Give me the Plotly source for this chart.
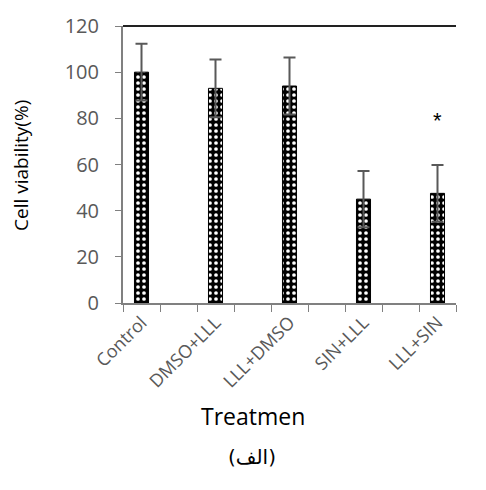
import plotly.graph_objects as go

categories = ["Control", "DMSO+LLL", "LLL+DMSO", "SIN+LLL", "LLL+SIN"]
viability = [100, 93, 94, 45, 47.5]
errors = [12.3, 12.5, 12.3, 12.2, 12.3]
star_label = "*"
star_y = 79
y_ticks = [0, 20, 40, 60, 80, 100, 120]

xpos = list(range(len(categories)))

W, H = 486, 490
ml, mr, mt, mb = 123, 30, 24, 187
pw, ph = W - ml - mr, H - mt - mb


def px2paper(px, py):
    return (px - ml) / pw, 1 - (py - mt) / ph


fig = go.Figure()
fig.add_trace(go.Bar(
    x=xpos, y=viability,
    width=0.19,
    marker=dict(
        color="black",
        line=dict(color="black", width=1),
        pattern=dict(shape=".", bgcolor="black", fgcolor="white",
                     size=6, solidity=0.3, fillmode="replace"),
    ),
    error_y=dict(type="data", array=errors, visible=True,
                 color="#595959", thickness=2, width=6),
    showlegend=False,
))

fig.add_annotation(x=xpos[4], y=star_y, text=star_label, showarrow=False,
                   font=dict(size=22, color="black", family="Liberation Sans"),
                   xref="x", yref="y")

tx, ty = px2paper(253, 417)
fig.add_annotation(x=tx, y=ty, xref="paper", yref="paper", text="Treatmen",
                   showarrow=False, xanchor="center", yanchor="middle",
                   font=dict(size=23, color="black", family="Open Sans"))
ax_, ay_ = px2paper(252, 458)
fig.add_annotation(x=ax_, y=ay_, xref="paper", yref="paper", text="(الف)",
                   showarrow=False, xanchor="center", yanchor="middle",
                   font=dict(size=20, color="black", family="DejaVu Sans"))
yx, yy = px2paper(21, 165)
fig.add_annotation(x=yx, y=yy, xref="paper", yref="paper", text="Cell viability(%)",
                   showarrow=False, xanchor="center", yanchor="middle", textangle=-90,
                   font=dict(size=19, color="black", family="Open Sans"))

fig.update_layout(
    width=W, height=H,
    margin=dict(l=ml, r=mr, t=mt, b=mb),
    plot_bgcolor="white", paper_bgcolor="white",
    font=dict(family="Open Sans", color="#595959"),
    xaxis=dict(
        range=[-0.25, 4.25],
        tickmode="array", tickvals=xpos, ticktext=categories,
        tickangle=-45, ticks="", tickfont=dict(size=18, color="#595959", family="Open Sans"),
        showline=True, linecolor="#808080", linewidth=2,
        showgrid=False, zeroline=False,
        minor=dict(tick0=-0.25, dtick=0.5, ticks="outside", ticklen=7,
                   tickcolor="#808080", tickwidth=1, showgrid=False),
    ),
    yaxis=dict(
        range=[0, 120], tickvals=y_ticks,
        ticks="outside", ticklen=6, tickcolor="#808080",
        tickfont=dict(size=20, color="#595959", family="Open Sans"),
        ticklabelstandoff=12,
        showline=True, linecolor="#808080", linewidth=2,
        showgrid=False, zeroline=False,
    ),
    shapes=[dict(type="line", xref="paper", yref="paper", x0=0, x1=1, y0=1, y1=1,
                 line=dict(color="#222222", width=2))],
)

fig.write_html("out.html", config={"displayModeBar": False},
               post_script="document.body.style.margin='0px';")
